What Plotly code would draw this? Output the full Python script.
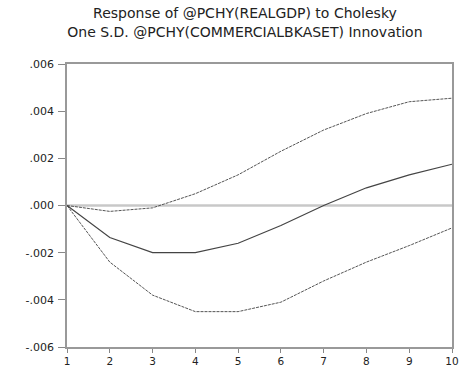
import plotly.graph_objects as go

periods = [1, 2, 3, 4, 5, 6, 7, 8, 9, 10]
response = [0.0, -0.00136, -0.0020, -0.0020, -0.0016, -0.00085, 0.0, 0.00075, 0.0013, 0.00175]
upper = [0.0, -0.00025, -0.0001, 0.0005, 0.0013, 0.0023, 0.0032, 0.0039, 0.0044, 0.00455]
lower = [0.0, -0.0024, -0.0038, -0.0045, -0.0045, -0.0041, -0.0032, -0.0024, -0.0017, -0.00095]
ytick_vals = [-0.006, -0.004, -0.002, 0.0, 0.002, 0.004, 0.006]
ytick_text = ["-.006", "-.004", "-.002", ".000", ".002", ".004", ".006"]
title_lines = ["Response of @PCHY(REALGDP) to Cholesky",
               "One S.D. @PCHY(COMMERCIALBKASET) Innovation"]

fig = go.Figure()
fig.add_trace(go.Scatter(x=[periods[0], periods[-1]], y=[0, 0], mode="lines",
                         line=dict(color="#c8c8c8", width=2.5), hoverinfo="skip"))
fig.add_trace(go.Scatter(x=periods, y=upper, mode="lines",
                         line=dict(color="#555555", width=1, dash="3px,1px")))
fig.add_trace(go.Scatter(x=periods, y=lower, mode="lines",
                         line=dict(color="#555555", width=1, dash="3px,1px")))
fig.add_trace(go.Scatter(x=periods, y=response, mode="lines",
                         line=dict(color="#444444", width=1.2)))

fig.update_layout(
    width=471, height=367,
    margin=dict(l=67, r=19, t=64, b=20),
    paper_bgcolor="white", plot_bgcolor="white",
    showlegend=False,
    font=dict(family="DejaVu Sans", color="#222222", size=11),
    title=dict(text="<br>".join(title_lines), x=0.52, xanchor="center", y=0.95, yanchor="top",
               font=dict(size=14, color="#222222")),
)
fig.update_xaxes(range=[1, 10], tickvals=periods, showgrid=False, zeroline=False,
                 showline=True, linecolor="#999999", linewidth=1.5, mirror=True,
                 ticks="outside", ticklen=4, tickcolor="#888888", ticklabelstandoff=0,
                 tickfont=dict(size=10.5), automargin=False)
fig.update_yaxes(range=[-0.006, 0.006], tickvals=ytick_vals, ticktext=ytick_text,
                 showgrid=False, zeroline=False,
                 showline=True, linecolor="#999999", linewidth=1.5, mirror=True,
                 ticks="outside", ticklen=7, tickcolor="#888888", ticklabelstandoff=2,
                 automargin=False)

fig.write_html("out.html")
